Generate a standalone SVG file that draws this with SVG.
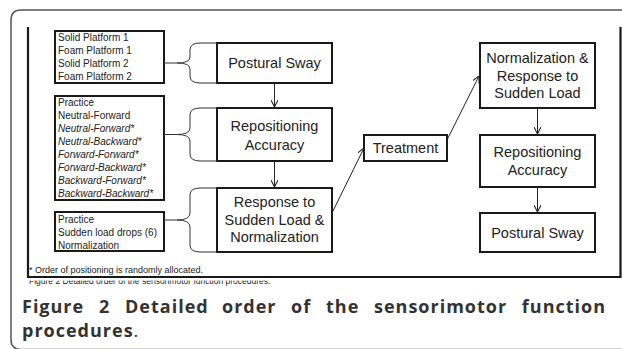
<svg xmlns="http://www.w3.org/2000/svg" width="622" height="349" viewBox="0 0 622 349">
<style>
.frame{fill:none;stroke:#555;stroke-width:1.5}
.inner{fill:none;stroke:#1a1a1a;stroke-width:2.2}
.box{fill:#fff;stroke:#1a1a1a;stroke-width:2}
.list{font-family:"Liberation Sans",Arial,sans-serif;font-size:10px;fill:#222}
.it{font-style:italic}
.lbl{font-family:"Liberation Sans",Arial,sans-serif;font-size:14.5px;fill:#222;text-anchor:middle}
.brace{fill:none;stroke:#333;stroke-width:1}
.conn{fill:none;stroke:#222;stroke-width:1}
.note{font-family:"Liberation Sans",Arial,sans-serif;font-size:9px;fill:#222}
.cap{font-family:"Open Sans","DejaVu Sans",sans-serif;font-size:18px;font-weight:bold;fill:#333;letter-spacing:1px}
</style>
<defs>
<marker id="arr" viewBox="0 0 10 10" refX="10" refY="5" markerWidth="7" markerHeight="7" markerUnits="userSpaceOnUse" orient="auto">
<path d="M0,0 L10,5 L0,10" fill="none" stroke="#222" stroke-width="1.5"/>
</marker>
<clipPath id="clipLow"><rect x="0" y="280.6" width="622" height="8"/></clipPath>
</defs>

<path class="frame" d="M622,349.5 L21,349.5 Q11,349.5 11,339.5 L11,20 Q11,10 21,10 L622,10"/>
<path class="inner" d="M28,27 L28,277 L620.5,277 L620.5,27"/>

<g id="list1">
<rect class="box" x="55" y="31" width="109" height="52"/>
<text class="list" x="58" y="40.5">Solid Platform 1</text>
<text class="list" x="58" y="53.5">Foam Platform 1</text>
<text class="list" x="58" y="66.5">Solid Platform 2</text>
<text class="list" x="58" y="79.5">Foam Platform 2</text>
</g>

<g id="list2">
<rect class="box" x="55" y="96" width="109" height="104"/>
<text class="list" x="58" y="105.5">Practice</text>
<text class="list" x="58" y="118.6">Neutral-Forward</text>
<text class="list it" x="58" y="131.7">Neutral-Forward*</text>
<text class="list it" x="58" y="144.8">Neutral-Backward*</text>
<text class="list it" x="58" y="157.9">Forward-Forward*</text>
<text class="list it" x="58" y="171">Forward-Backward*</text>
<text class="list it" x="58" y="184.1">Backward-Forward*</text>
<text class="list it" x="58" y="197.2">Backward-Backward*</text>
</g>

<g id="list3">
<rect class="box" x="55" y="212" width="109" height="39"/>
<text class="list" x="58" y="222.5">Practice</text>
<text class="list" x="58" y="235.5">Sudden load drops (6)</text>
<text class="list" x="58" y="248.5">Normalization</text>
</g>

<g id="ps1">
<rect class="box" x="217" y="43" width="115" height="40"/>
<text class="lbl" x="274.5" y="68">Postural Sway</text>
</g>

<g id="ra1">
<rect class="box" x="217" y="108" width="115" height="53"/>
<text class="lbl" x="274.5" y="131">Repositioning</text>
<text class="lbl" x="274.5" y="149.5">Accuracy</text>
</g>

<g id="rs1">
<rect class="box" x="217" y="188" width="115" height="64"/>
<text class="lbl" x="274.5" y="207">Response to</text>
<text class="lbl" x="274.5" y="224.5">Sudden Load &amp;</text>
<text class="lbl" x="274.5" y="242">Normalization</text>
</g>

<g id="treat">
<rect class="box" x="364" y="135" width="83" height="26"/>
<text class="lbl" x="405.5" y="153">Treatment</text>
</g>

<g id="nr2">
<rect class="box" x="480" y="43" width="115" height="65"/>
<text class="lbl" x="537.5" y="63">Normalization &amp;</text>
<text class="lbl" x="537.5" y="80.5">Response to</text>
<text class="lbl" x="537.5" y="98">Sudden Load</text>
</g>

<g id="ra2">
<rect class="box" x="480" y="135" width="115" height="52"/>
<text class="lbl" x="537.5" y="157">Repositioning</text>
<text class="lbl" x="537.5" y="175">Accuracy</text>
</g>

<g id="ps2">
<rect class="box" x="480" y="213" width="115" height="39"/>
<text class="lbl" x="537.5" y="237.5">Postural Sway</text>
</g>

<g id="connectors">
<path class="brace" d="M164,63 L177,63 M217,43 L200,43 Q190,43 190,50 L190,57 Q190,63 177,63 Q190,63 190,69 L190,76 Q190,83 200,83 L217,83"/>
<path class="brace" d="M164,134.5 L177,134.5 M217,108 L200,108 Q190,108 190,115 L190,128 Q190,134.5 177,134.5 Q190,134.5 190,141 L190,154 Q190,161 200,161 L217,161"/>
<path class="brace" d="M164,220 L177,220 M217,188 L200,188 Q190,188 190,195 L190,213 Q190,220 177,220 Q190,220 190,227 L190,245 Q190,252 200,252 L217,252"/>
<line class="conn" x1="274.5" y1="84" x2="274.5" y2="107" marker-end="url(#arr)"/>
<line class="conn" x1="274.5" y1="162" x2="274.5" y2="187" marker-end="url(#arr)"/>
<line class="conn" x1="332" y1="213" x2="364" y2="148" marker-end="url(#arr)"/>
<line class="conn" x1="447" y1="140" x2="479" y2="76" marker-end="url(#arr)"/>
<line class="conn" x1="537.5" y1="109" x2="537.5" y2="134" marker-end="url(#arr)"/>
<line class="conn" x1="537.5" y1="188" x2="537.5" y2="212" marker-end="url(#arr)"/>
</g>

<text class="note" x="29" y="273">* Order of positioning is randomly allocated.</text>
<text class="note" x="29" y="284" clip-path="url(#clipLow)" fill="#888" style="font-size:8.5px">Figure 2 Detailed order of the sensorimotor function procedures.</text>

<text class="cap" y="313"><tspan x="22">Figure</tspan><tspan x="99">2</tspan><tspan x="125">Detailed</tspan><tspan x="222">order</tspan><tspan x="291">of</tspan><tspan x="326">the</tspan><tspan x="374">sensorimotor</tspan><tspan x="606" text-anchor="end">function</tspan></text>
<text class="cap" x="22" y="337">procedures<tspan font-weight="normal">.</tspan></text>
</svg>
